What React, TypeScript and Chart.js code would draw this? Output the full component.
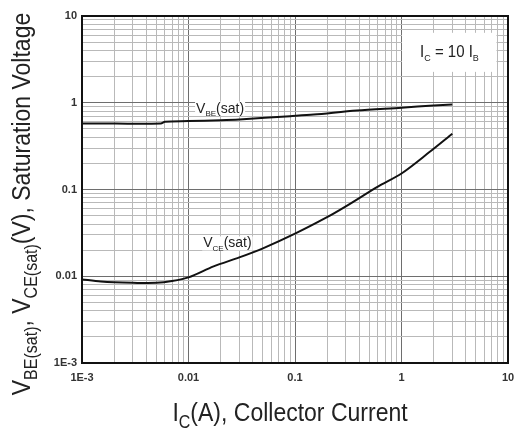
import React, { useEffect, useRef } from 'react';
import { Chart, registerables } from 'chart.js';

Chart.register(...registerables);

// ---- Data ----
const vbeCurrent = [0.001, 0.002, 0.0055, 0.006, 0.01, 0.02, 0.03, 0.09, 0.15, 0.38, 1, 2, 3];
const vbeVoltage = [0.575, 0.575, 0.578, 0.605, 0.615, 0.63, 0.643, 0.7, 0.73, 0.815, 0.877, 0.93, 0.955];

const vceCurrent = [0.001, 0.0015, 0.002, 0.003, 0.005, 0.007, 0.01, 0.0172, 0.03, 0.05, 0.1, 0.2, 0.3, 0.6, 1, 1.83, 3];
const vceVoltage = [0.0092, 0.0087, 0.0085, 0.0084, 0.0084, 0.0088, 0.0097, 0.013, 0.0165, 0.021, 0.031, 0.048, 0.064, 0.108, 0.153, 0.27, 0.44];

const decades = [0.001, 0.01, 0.1, 1, 10];
const xTickLabels = ['1E-3', '0.01', '0.1', '1', '10'];
const yTickLabels = ['1E-3', '0.01', '0.1', '1', '10'];

type Part = [string, boolean];
const xTitle: Part[] = [['I', false], ['C', true], ['(A), Collector Current', false]];
const yTitle: Part[] = [['V', false], ['BE(sat)', true], [', V', false], ['CE(sat)', true], ['(V), Saturation Voltage', false]];
const vbeLabel: Part[] = [['V', false], ['BE', true], ['(sat)', false]];
const vceLabel: Part[] = [['V', false], ['CE', true], ['(sat)', false]];
const condLabel: Part[] = [['I', false], ['C', true], [' = 10 I', false], ['B', true]];

const FONT = 'Arial, "Liberation Sans", sans-serif';

function richWidth(ctx: CanvasRenderingContext2D, parts: Part[], size: number, subSize: number) {
  let w = 0;
  for (const [t, sub] of parts) {
    ctx.font = `${sub ? subSize : size}px ${FONT}`;
    w += ctx.measureText(t).width;
  }
  return w;
}

// draws centred rich text at (cx, baseline) in the current transform, with optional vertical stretch
function drawRich(ctx: CanvasRenderingContext2D, parts: Part[], cx: number, baseline: number, size: number, subSize: number, color: string, stretch = 1) {
  const w = richWidth(ctx, parts, size, subSize);
  ctx.save();
  ctx.translate(cx, baseline);
  ctx.scale(1, stretch);
  let x = -w / 2;
  ctx.fillStyle = color;
  ctx.textAlign = 'left';
  ctx.textBaseline = 'alphabetic';
  for (const [t, sub] of parts) {
    ctx.font = `${sub ? subSize : size}px ${FONT}`;
    ctx.fillText(t, x, sub ? size * 0.25 : 0);
    x += ctx.measureText(t).width;
  }
  ctx.restore();
  return w;
}

function buildLogTicks() {
  const ticks: { value: number }[] = [];
  for (let e = -3; e <= 0; e++) {
    for (let m = 1; m <= 9; m++) {
      ticks.push({ value: Number((m * Math.pow(10, e)).toPrecision(3)) });
    }
  }
  ticks.push({ value: 10 });
  return ticks;
}

function decadeIndex(v: number) {
  return decades.findIndex((d) => Math.abs(v - d) / d < 1e-6);
}

const annotations = {
  id: 'annotations',
  afterDatasetsDraw(chart: any) {
    const ctx: CanvasRenderingContext2D = chart.ctx;
    const xs = chart.scales.x;
    const ys = chart.scales.y;
    ctx.save();

    // condition box
    const bx0 = xs.getPixelForValue(1.01);
    const bx1 = xs.getPixelForValue(7.8);
    const by0 = ys.getPixelForValue(6.4);
    const by1 = ys.getPixelForValue(2.27);
    ctx.fillStyle = '#ffffff';
    ctx.fillRect(bx0, by0, bx1 - bx0, by1 - by0);
    drawRich(ctx, condLabel, xs.getPixelForValue(2.82), ys.getPixelForValue(3.38), 15, 9, '#222', 1.1);

    // VBE label
    const l1x = xs.getPixelForValue(0.0198);
    const l1y = ys.getPixelForValue(0.77);
    let w = richWidth(ctx, vbeLabel, 14, 8);
    ctx.fillStyle = '#ffffff';
    ctx.fillRect(l1x - w / 2 - 1, l1y - 11, w + 2, 14);
    drawRich(ctx, vbeLabel, l1x, l1y, 14, 8, '#222');

    // VCE label
    const l2x = xs.getPixelForValue(0.0232);
    const l2y = ys.getPixelForValue(0.0215);
    w = richWidth(ctx, vceLabel, 14, 8);
    ctx.fillStyle = '#ffffff';
    ctx.fillRect(l2x - w / 2 - 1, l2y - 11, w + 2, 14);
    drawRich(ctx, vceLabel, l2x, l2y, 14, 8, '#222');

    ctx.restore();
  },
  afterDraw(chart: any) {
    const ctx: CanvasRenderingContext2D = chart.ctx;
    const { left, right, top, bottom } = chart.chartArea;
    ctx.save();
    ctx.strokeStyle = '#111';
    ctx.lineWidth = 2;
    ctx.strokeRect(left, top, right - left, bottom - top);

    // x title
    drawRich(ctx, xTitle, 290, 421, 23, 16, '#222', 1.15);

    // y title (rotated)
    ctx.translate(30, 204);
    ctx.rotate(-Math.PI / 2);
    drawRich(ctx, yTitle, 0, 0, 23, 16, '#222', 1.15);
    ctx.restore();
  },
};

export default function App() {
  const ref = useRef<HTMLCanvasElement | null>(null);

  useEffect(() => {
    document.body.style.margin = '0';
    const canvas = ref.current;
    if (!canvas) return;
    const gridColor = (c: any) => (c.tick && decadeIndex(c.tick.value) >= 0 ? '#6e6e6e' : '#b9b9b9');
    const chart = new Chart(canvas, {
      type: 'scatter',
      data: {
        datasets: [
          {
            label: 'VBE(sat)',
            data: vbeCurrent.map((x, i) => ({ x, y: vbeVoltage[i] })),
            showLine: true,
            borderColor: '#111',
            borderWidth: 2,
            pointRadius: 0,
            tension: 0.3,
          },
          {
            label: 'VCE(sat)',
            data: vceCurrent.map((x, i) => ({ x, y: vceVoltage[i] })),
            showLine: true,
            borderColor: '#111',
            borderWidth: 2,
            pointRadius: 0,
            tension: 0.3,
          },
        ],
      },
      options: {
        responsive: false,
        animation: false,
        layout: { padding: { top: 16, right: 6, left: 0, bottom: 0 } },
        plugins: { legend: { display: false }, tooltip: { enabled: false } },
        scales: {
          x: {
            type: 'logarithmic',
            min: 0.001,
            max: 10,
            afterBuildTicks: (s: any) => { s.ticks = buildLogTicks(); },
            afterFit: (s: any) => { s.height = 65; s.paddingLeft = 0; s.paddingRight = 0; },
            grid: { color: gridColor, lineWidth: 1, drawTicks: false },
            border: { display: false },
            ticks: {
              autoSkip: false,
              maxRotation: 0,
              padding: 8,
              color: '#333',
              font: { family: FONT, size: 11, weight: 'bold' },
              callback: (v: any) => {
                const i = decadeIndex(Number(v));
                return i >= 0 ? xTickLabels[i] : '';
              },
            },
          },
          y: {
            type: 'logarithmic',
            min: 0.001,
            max: 10,
            afterBuildTicks: (s: any) => { s.ticks = buildLogTicks(); },
            afterFit: (s: any) => { s.width = 82; s.paddingTop = 0; s.paddingBottom = 0; },
            grid: { color: gridColor, lineWidth: 1, drawTicks: false },
            border: { display: false },
            ticks: {
              autoSkip: false,
              padding: 5,
              color: '#333',
              font: { family: FONT, size: 11, weight: 'bold' },
              callback: (v: any) => {
                const i = decadeIndex(Number(v));
                return i >= 0 ? yTickLabels[i] : '';
              },
            },
          },
        },
      },
      plugins: [annotations],
    } as any);
    return () => chart.destroy();
  }, []);

  return (
    <div style={{ position: 'absolute', left: 0, top: 0, width: 514, height: 428, background: '#fff' }}>
      <canvas ref={ref} width={514} height={428} />
    </div>
  );
}
